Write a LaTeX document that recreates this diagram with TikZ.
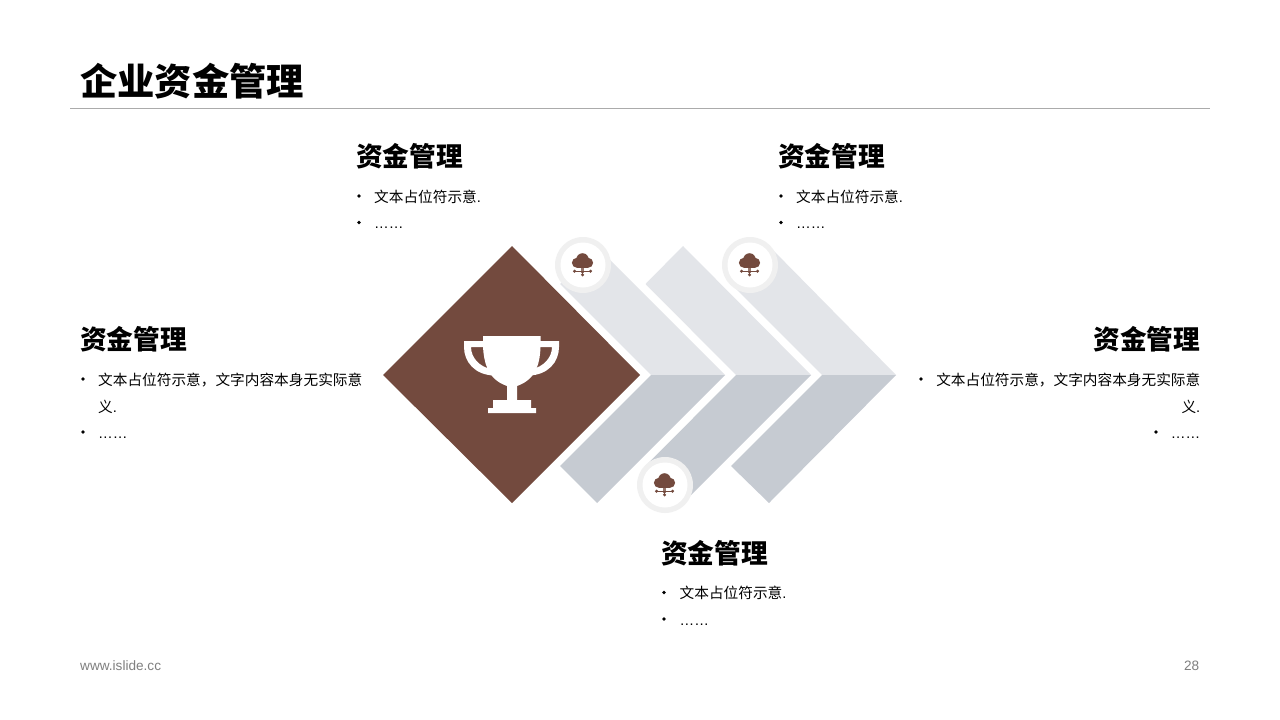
\documentclass[tikz,border=0pt]{standalone}
\usepackage{fontspec}
\setmainfont{Noto Sans CJK SC}
\newfontfamily\latinf{Liberation Sans}
\definecolor{brownc}{HTML}{734A3E}
\definecolor{lightc}{HTML}{E3E5E9}
\definecolor{darkc}{HTML}{C6CBD2}
\definecolor{ringc}{HTML}{F0F0F0}
\definecolor{rulec}{HTML}{ABABAB}
\definecolor{footc}{HTML}{7F7F7F}
\newcommand{\dotsline}{{\latinf ……}}
\newcommand{\pt}{{\latinf .}}
\tikzset{
  x=1pt,y=-1pt,
  titletext/.style={anchor=base west,inner sep=0,font=\fontsize{37.3}{40}\selectfont\bfseries},
  headleft/.style={anchor=base west,inner sep=0,font=\fontsize{26.7}{30}\selectfont\bfseries},
  headright/.style={anchor=base east,inner sep=0,font=\fontsize{26.7}{30}\selectfont\bfseries},
  bodyleft/.style={anchor=base west,inner sep=0,font=\fontsize{14.67}{18}\selectfont,text=black},
  bodyright/.style={anchor=base east,inner sep=0,font=\fontsize{14.67}{18}\selectfont,text=black},
  bulletmark/.style={fill=black,circle,inner sep=0,minimum size=3.6pt},
  foottext/.style={inner sep=0,font=\fontsize{13.6}{16}\selectfont\latinf,text=footc},
  cloudicon/.pic={
    \fill[brownc] (-5.6,-2.2) circle[radius=5] (5.6,-2.2) circle[radius=5] (0,-5.6) circle[radius=6.2];
    \fill[brownc] (-5.6,-4) rectangle (5.6,2.8);
    \fill[brownc!75!white] (-1.8,2.8) rectangle (1.8,7.5);
    \draw[brownc,line width=1.4pt] (-7.5,6.2) -- (7.5,6.2) (0,6.2) -- (0,9.5);
    \fill[brownc] (-8,6.2) circle[radius=1.7] (8,6.2) circle[radius=1.7] (0,9.8) circle[radius=1.7];
  }
}
\begin{document}
\begin{tikzpicture}
\useasboundingbox (0,0) rectangle (1280,720);
\fill[white] (0,0) rectangle (1280,720);
% header
\node[titletext] (title) at (80,95) {企业资金管理};
\draw[rulec,line width=0.9pt] (70,108.3) -- (1210,108.3);
% chevrons
\fill[lightc] (651,375) -- (560,284) -- (597,247) -- (725,375) -- cycle;
\fill[darkc]  (651,375) -- (725,375) -- (597,503) -- (560,466) -- cycle;
\fill[lightc] (736,375) -- (645.5,284) -- (683,246) -- (811,375) -- cycle;
\fill[darkc]  (736,375) -- (811,375) -- (683,503) -- (645.5,466) -- cycle;
\fill[lightc] (822,375) -- (731,284) -- (769,246) -- (896,375) -- cycle;
\fill[darkc]  (822,375) -- (896,375) -- (769,503) -- (731,466) -- cycle;
% diamond
\fill[brownc] (512,246) -- (640,375) -- (512,503) -- (383,375) -- cycle;
% trophy handles
\fill[white] (484,341) -- (464,341) -- (464,347)
  .. controls (464,362) and (475,375) .. (494,375.5) -- (491,369)
  .. controls (480,367) and (471,358) .. (471,347) -- (484,347) -- cycle;
\fill[white] (539,341) -- (559,341) -- (559,347)
  .. controls (559,362) and (548,375) .. (529,375.5) -- (532,369)
  .. controls (543,367) and (552,358) .. (552,347) -- (539,347) -- cycle;
% trophy cup and base
\fill[white] (483,336) -- (540.5,336) -- (540.5,347)
  .. controls (540,362) and (537,379) .. (517,386) -- (517,400) -- (531,400) -- (531,408)
  -- (536,408) -- (536,413) -- (488,413) -- (488,408) -- (493,408) -- (493,400) -- (507,400)
  -- (507,386) .. controls (487,379) and (484,362) .. (483,347) -- cycle;
% rings
\foreach \cx/\cy in {583/265,750/265,665/485}{
  \fill[ringc] (\cx,\cy) circle[radius=28];
  \fill[white] (\cx,\cy) circle[radius=22.5];
  \pic at (\cx-0.5,\cy) {cloudicon};
}
% top left block
\node[headleft] (h1) at (356,166) {资金管理};
\node[bulletmark] (b1a) at (359,196) {};
\node[bodyleft] (t1a) at (374,202) {文本占位符示意\pt};
\node[bulletmark] (b1b) at (359,222.5) {};
\node[bodyleft] (t1b) at (374,228.5) {\dotsline};
% top right block
\node[headleft] (h2) at (778,166) {资金管理};
\node[bulletmark] (b2a) at (781,196) {};
\node[bodyleft] (t2a) at (796,202) {文本占位符示意\pt};
\node[bulletmark] (b2b) at (781,222.5) {};
\node[bodyleft] (t2b) at (796,228.5) {\dotsline};
% left block
\node[headleft] (h3) at (80,349.5) {资金管理};
\node[bulletmark] (b3a) at (83,379) {};
\node[bodyleft] (t3a) at (98,385) {文本占位符示意，文字内容本身无实际意};
\node[bodyleft] (t3c) at (98,412) {义\pt};
\node[bulletmark] (b3b) at (83,432) {};
\node[bodyleft] (t3b) at (98,438) {\dotsline};
% right block
\node[headright] (h4) at (1200.5,349.5) {资金管理};
\node[bulletmark] (b4a) at (921,379) {};
\node[bodyright] (t4a) at (1200.5,385) {文本占位符示意，文字内容本身无实际意};
\node[bodyright] (t4c) at (1200.5,412) {义\pt};
\node[bulletmark] (b4b) at (1156,432) {};
\node[bodyright] (t4b) at (1200.5,438) {\dotsline};
% bottom block
\node[headleft] (h5) at (661,563) {资金管理};
\node[bulletmark] (b5a) at (664,592.5) {};
\node[bodyleft] (t5a) at (679.5,598.5) {文本占位符示意\pt};
\node[bulletmark] (b5b) at (664,619) {};
\node[bodyleft] (t5b) at (679.5,625) {\dotsline};
% footer
\node[foottext,anchor=west] (foot) at (80,666) {www.islide.cc};
\node[foottext,anchor=east] (page) at (1199.5,666) {28};
\end{tikzpicture}
\end{document}
